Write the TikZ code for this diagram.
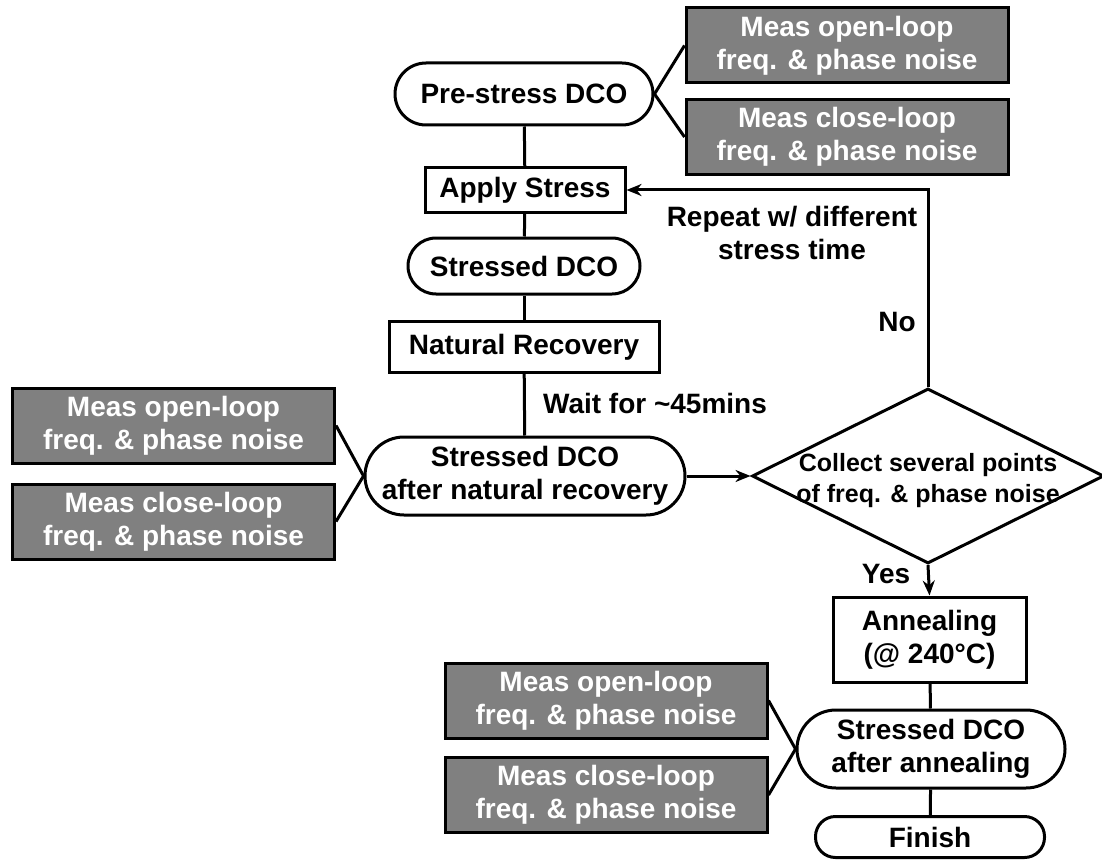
\documentclass[tikz,border=0pt]{standalone}
\usepackage{fontspec}
\setmainfont{Liberation Sans}
\usetikzlibrary{shapes.geometric,arrows.meta}

\tikzset{
  base/.style={draw=black, line width=3pt, inner sep=0pt, align=center,
    font=\bfseries\fontsize{28}{33}\selectfont},
  procbox/.style={base, rectangle},
  stadium/.style={base, rectangle, rounded corners=#1},
  measbox/.style={base, rectangle, fill=black!50, text=white,
    minimum width=322pt, minimum height=75pt},
  decision/.style={draw=black, line width=3pt, diamond, inner sep=0pt,
    minimum width=352pt, minimum height=175pt},
  lbl/.style={align=center, inner sep=0pt, font=\bfseries\fontsize{28}{33}\selectfont},
  link/.style={line width=3pt},
  flow/.style={line width=3pt, -{Stealth[length=15pt,width=12pt]}}
}

\begin{document}
\begin{tikzpicture}[x=1pt, y=-1pt]
  \useasboundingbox (0,0) rectangle (1102,861);

  % main column
  \node[stadium=31pt, minimum width=258pt, minimum height=62pt] (pre) at (524,94) {Pre-stress DCO};
  \node[procbox, minimum width=200pt, minimum height=44pt] (apply) at (525,190) {Apply Stress};
  \node[stadium=28pt, minimum width=232pt, minimum height=56pt] (sd1) at (524,266) {Stressed DCO};
  \node[procbox, minimum width=270pt, minimum height=51pt] (nat) at (524,347) {Natural Recovery};
  \node[stadium=39pt, minimum width=320pt, minimum height=78pt] (sdn) at (525,476) {Stressed DCO\\after natural recovery};

  % decision
  \node[decision] (dia) at (928,476) {};
  \node[align=center, inner sep=0pt, font=\bfseries\fontsize{25}{31}\selectfont] (diatext) at (928,481)
    {Collect several points\\of freq. \& phase noise};

  % annealing branch
  \node[procbox, minimum width=193pt, minimum height=85pt] (ann) at (929.5,639.5) {Annealing\\(@ 240°C)};
  \node[stadium=39pt, minimum width=268pt, minimum height=78pt] (sda) at (931,749) {Stressed DCO\\after annealing};
  \node[stadium=20pt, minimum width=229pt, minimum height=41pt] (fin) at (930,837) {Finish};

  % measurement boxes
  \node[measbox] (mt1) at (847,45.5) {Meas open-loop\\freq. \& phase noise};
  \node[measbox] (mt2) at (847,137) {Meas close-loop\\freq. \& phase noise};
  \node[measbox] (ml1) at (173.5,425.5) {Meas open-loop\\freq. \& phase noise};
  \node[measbox] (ml2) at (173.5,521.5) {Meas close-loop\\freq. \& phase noise};
  \node[measbox] (mb1) at (606,700.5) {Meas open-loop\\freq. \& phase noise};
  \node[measbox] (mb2) at (606,795) {Meas close-loop\\freq. \& phase noise};

  % labels
  \node[lbl] (repeat) at (792,233) {Repeat w/ different\\stress time};
  \node[lbl] (no) at (897,322) {No};
  \node[lbl] (wait) at (655,403) {Wait for \textasciitilde45mins};
  \node[lbl] (yes) at (886,574) {Yes};

  % connectors
  \draw[link] (pre) -- (apply);
  \draw[link] (apply) -- (sd1);
  \draw[link] (sd1) -- (nat);
  \draw[link] (nat) -- (sdn);
  \draw[link] (ann) -- (sda);
  \draw[link] (sda) -- (fin);

  \draw[link] (mt1.west) -- (pre.east) -- (mt2.west);
  \draw[link] (ml1.east) -- (sdn.west) -- (ml2.east);
  \draw[link] (mb1.east) -- (sda.west) -- (mb2.east);

  \draw[flow] (sdn.east) -- (dia.west);
  \draw[flow] (dia.north) |- (apply.east);
  \draw[flow] (dia.south) -- (ann.north);
\end{tikzpicture}
\end{document}
